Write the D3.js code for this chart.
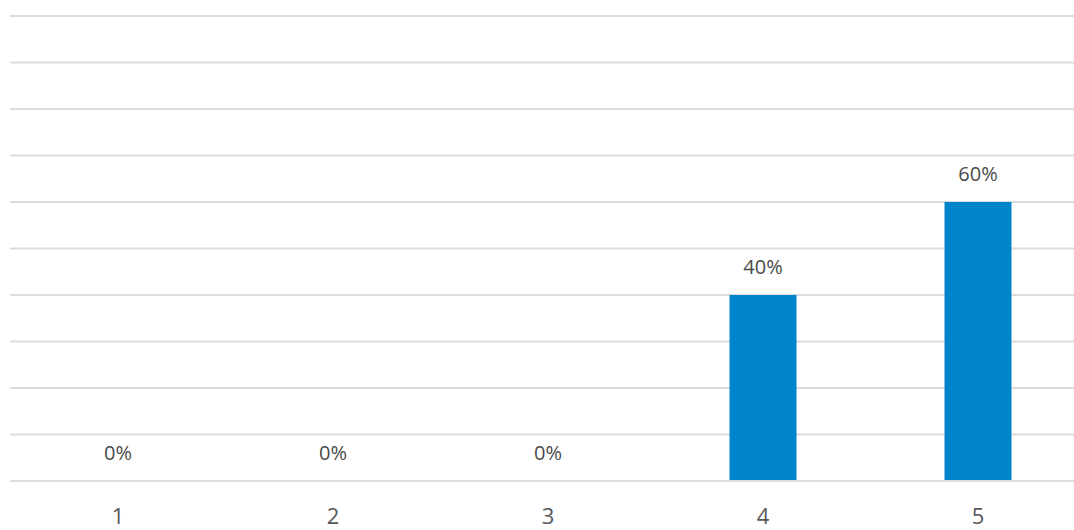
<!DOCTYPE html>
<html><head><meta charset="utf-8">
<script src="https://cdn.jsdelivr.net/npm/d3@7"></script>
<style>html,body{margin:0;padding:0;background:#fff;overflow:hidden}</style>
</head><body>
<svg id="c" width="1074" height="530"></svg>
<script>
const categories = ["1","2","3","4","5"];
const values = [0, 0, 0, 40, 60];
const yTicks = [0,10,20,30,40,50,60,70,80,90,100];

const svg = d3.select("#c");
const x = d3.scaleBand().domain(categories).range([10.5, 1085.5]).padding(0);
const y = d3.scaleLinear().domain([0, 100]).range([481, 16]);
const barW = 67;

svg.append("g").selectAll("line").data(yTicks).join("line")
  .attr("x1", 10).attr("x2", 1074)
  .attr("y1", d => y(d)).attr("y2", d => y(d))
  .attr("stroke", "#dcdcdc").attr("stroke-width", 2);

svg.append("g").selectAll("rect").data(values).join("rect")
  .attr("x", (d,i) => x(categories[i]) + x.bandwidth()/2 - barW/2)
  .attr("width", barW)
  .attr("y", d => y(d))
  .attr("height", d => y(0) - y(d) - 1)
  .attr("fill", "#0085ca");

svg.append("g").selectAll("text").data(values).join("text")
  .attr("x", (d,i) => x(categories[i]) + x.bandwidth()/2)
  .attr("y", d => y(d) - 21)
  .attr("text-anchor", "middle")
  .attr("font-family", "Open Sans, sans-serif")
  .attr("font-size", 20)
  .attr("fill", "#4a4a4a")
  .text(d => d + "%");

svg.append("g").selectAll("text").data(categories).join("text")
  .attr("x", d => x(d) + x.bandwidth()/2)
  .attr("y", 524)
  .attr("text-anchor", "middle")
  .attr("font-family", "Open Sans, sans-serif")
  .attr("font-size", 22)
  .attr("fill", "#595959")
  .text(d => d);
</script>
</body></html>
